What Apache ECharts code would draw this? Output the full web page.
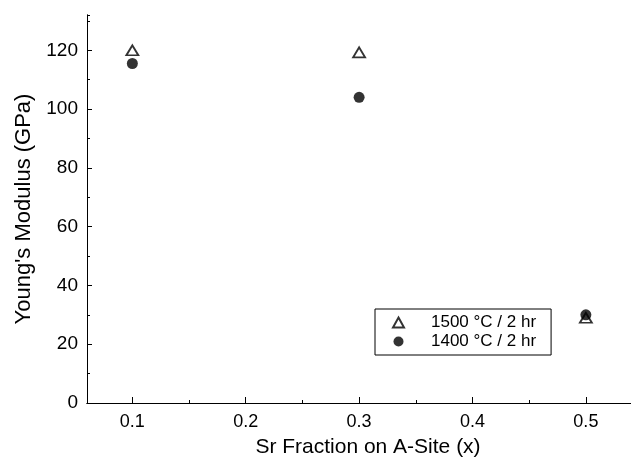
<!DOCTYPE html>
<html>
<head>
<meta charset="utf-8">
<script src="https://cdn.jsdelivr.net/npm/echarts@6/dist/echarts.min.js"></script>
<style>
  html, body { margin: 0; padding: 0; background: #fff; }
  #chart { width: 631px; height: 469px; }
</style>
</head>
<body>
<div id="chart"></div>
<script>
// data
var srFraction = [0.1, 0.3, 0.5];
var modulus1500 = [120, 119.3, 29];
var modulus1400 = [115.5, 104, 30];
var seriesNames = ['1500 °C / 2 hr', '1400 °C / 2 hr'];

function pairs(xs, ys) {
    return xs.map(function (x, i) { return [x, ys[i]]; });
}

var font = 'Liberation Sans, Arial, sans-serif';
var myChart = echarts.init(document.getElementById('chart'), null, { renderer: 'canvas' });

var yCommon = {
    type: 'value',
    min: 0,
    max: 132,
    position: 'left',
    splitLine: { show: false },
    axisLine: { show: true, lineStyle: { color: '#000', width: 1 } }
};

var xCommon = {
    type: 'value',
    min: 0.06,
    max: 0.5398,
    splitLine: { show: false },
    axisLine: { show: true, lineStyle: { color: '#000', width: 1 } }
};

var option = {
    backgroundColor: '#fff',
    animation: false,
    grid: { left: 87, right: -3, top: 15, bottom: 66 },
    legend: {
        orient: 'vertical',
        left: 375,
        top: 309,
        padding: [5, 15, 5, 17],
        itemGap: 2,
        itemWidth: 11,
        itemHeight: 10,
        borderColor: '#000',
        borderWidth: 1,
        selectedMode: false,
        textStyle: { color: '#000', fontFamily: font, fontSize: 17, padding: [0, 0, 0, 22] },
        data: seriesNames
    },
    xAxis: [
        // minor ticks every 0.05
        Object.assign({}, xCommon, {
            minInterval: 0.05,
            maxInterval: 0.05,
            axisTick: { show: true, inside: true, length: 3, lineStyle: { color: '#000' } },
            axisLabel: { show: false }
        }),
        // major ticks + labels every 0.1
        Object.assign({}, xCommon, {
            position: 'bottom',
            minInterval: 0.1,
            maxInterval: 0.1,
            axisTick: { show: true, inside: true, length: 6, lineStyle: { color: '#000' } },
            axisLabel: {
                show: true,
                margin: 10,
                color: '#000',
                fontFamily: font,
                fontSize: 18,
                showMinLabel: false,
                showMaxLabel: false,
                formatter: function (v) { return v.toFixed(1); }
            },
            name: 'Sr Fraction on A-Site (x)',
            nameLocation: 'middle',
            nameGap: 34,
            nameTextStyle: { color: '#000', fontFamily: font, fontSize: 21, padding: [0, 0, 0, 18] }
        })
    ],
    yAxis: [
        Object.assign({}, yCommon, {
            interval: 10,
            axisTick: { show: true, inside: true, length: 3, lineStyle: { color: '#000' } },
            axisLabel: { show: false }
        }),
        Object.assign({}, yCommon, {
            interval: 20,
            axisTick: { show: true, inside: true, length: 5, lineStyle: { color: '#000' } },
            axisLabel: {
                show: true,
                margin: 9,
                color: '#000',
                fontFamily: font,
                fontSize: 19,
                showMaxLabel: false
            },
            name: "Young's Modulus (GPa)",
            nameLocation: 'middle',
            nameGap: 50,
            nameTextStyle: { color: '#000', fontFamily: font, fontSize: 22 }
        })
    ],
    series: [
        {
            name: seriesNames[0],
            type: 'scatter',
            xAxisIndex: 1,
            yAxisIndex: 1,
            symbol: 'triangle',
            symbolSize: [12, 10],
            itemStyle: { color: '#fff', borderColor: '#000', borderWidth: 1.8 },
            data: pairs(srFraction, modulus1500)
        },
        {
            name: seriesNames[1],
            type: 'scatter',
            xAxisIndex: 1,
            yAxisIndex: 1,
            symbol: 'circle',
            symbolSize: 11,
            itemStyle: { color: '#000' },
            data: pairs(srFraction, modulus1400)
        }
    ]
};

myChart.setOption(option);
</script>
</body>
</html>
